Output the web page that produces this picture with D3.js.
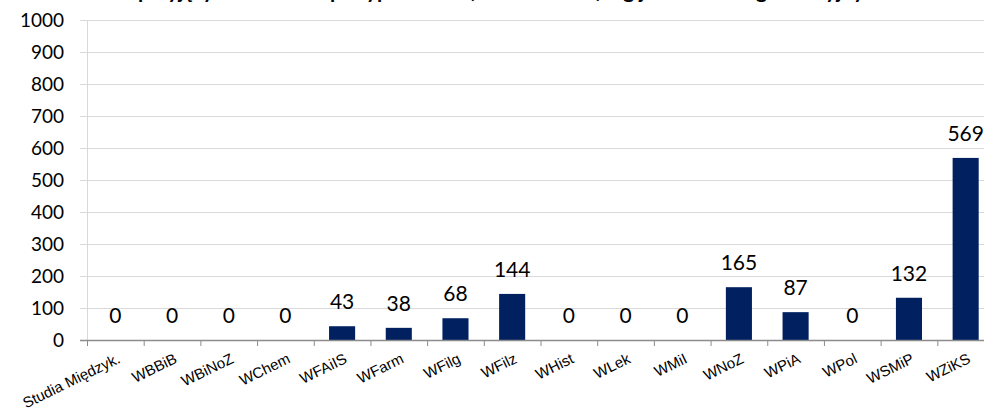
<!DOCTYPE html>
<html lang="pl">
<head>
  <meta charset="utf-8">
  <title>Wykres słupkowy</title>
  <script src="https://d3js.org/d3.v7.min.js"></script>
  <style>
    body { margin: 0; background: #fff; }
    .tytul { font: bold 21px Lato, "Open Sans", sans-serif; fill: #000; }
    .oy text { font: 19px Lato, sans-serif; fill: #000; }
    .ox text { font: 15px "Liberation Sans", Arial, sans-serif; fill: #000; }
    .etykieta { font: 21px Lato, sans-serif; fill: #000; text-anchor: middle; }
  </style>
</head>
<body>
  <div id="chart"></div>
  <script>
    "use strict"

    var wydzialy = ["Studia Międzyk.", "WBBiB", "WBiNoZ", "WChem", "WFAiIS", "WFarm", "WFilg", "WFilz",
                    "WHist", "WLek", "WMiI", "WNoZ", "WPiA", "WPol", "WSMiP", "WZiKS"];
    var liczby = [0, 0, 0, 0, 43, 38, 68, 144, 0, 0, 0, 165, 87, 0, 132, 569];
    var tickiY = [0, 100, 200, 300, 400, 500, 600, 700, 800, 900, 1000];
    var tytul = "Liczba osób przyjętych na studia podyplomowe (stan na dzień) wg jednostek organizacyjnych";

    var szer = 984, wys = 409;
    var margin = {top: 20, left: 87, bottom: 69};
    var dol = wys - margin.bottom;

    var svg = d3.select("#chart").append("svg")
      .attr("width", szer).attr("height", wys);

    var x = d3.scaleBand()
      .domain(wydzialy)
      .range([margin.left, 994])
      .paddingInner(0.54)
      .paddingOuter(0.27);

    var pasmo = d3.scaleBand().domain(wydzialy).range([margin.left, 994]);

    var y = d3.scaleLinear().domain([0, 1000]).range([dol, margin.top]);

    // siatka
    svg.append("g").selectAll("line")
      .data(tickiY.filter(d => d > 0))
      .enter().append("line")
        .attr("x1", margin.left - 7).attr("x2", szer)
        .attr("y1", d => y(d) + 0.5).attr("y2", d => y(d) + 0.5)
        .attr("stroke", "#d9d9d9");

    svg.append("line")
      .attr("x1", margin.left + 0.5).attr("x2", margin.left + 0.5)
      .attr("y1", y(1000)).attr("y2", dol)
      .attr("stroke", "#d9d9d9");

    var oy = svg.append("g").attr("class", "oy")
      .attr("transform", "translate(" + (margin.left - 7) + ",0)")
      .call(d3.axisLeft(y).tickValues(tickiY).tickFormat(d3.format("d")).tickSize(0).tickPadding(16));
    oy.select(".domain").remove();

    // słupki
    svg.selectAll("rect.slupek")
      .data(liczby)
      .enter().append("rect")
        .attr("class", "slupek")
        .attr("x", (d, i) => x(wydzialy[i]))
        .attr("width", x.bandwidth())
        .attr("y", d => y(d))
        .attr("height", d => dol - y(d))
        .attr("fill", "#002060");

    // oś X
    svg.append("line")
      .attr("x1", margin.left - 7).attr("x2", szer)
      .attr("y1", dol + 0.5).attr("y2", dol + 0.5)
      .attr("stroke", "#8c8c8c").attr("stroke-width", 1.5);

    svg.append("g").selectAll("line")
      .data(wydzialy)
      .enter().append("line")
        .attr("x1", d => pasmo(d) + 0.5).attr("x2", d => pasmo(d) + 0.5)
        .attr("y1", dol).attr("y2", dol + 6)
        .attr("stroke", "#8c8c8c");

    svg.append("g").attr("class", "ox").selectAll("text")
      .data(wydzialy)
      .enter().append("text")
        .attr("text-anchor", "end")
        .attr("transform", d => "translate(" + (x(d) + x.bandwidth() / 2 + 1) + "," + (dol + 12) + ") rotate(-26)")
        .attr("dy", "0.75em")
        .text(d => d);

    // etykiety wartości
    svg.selectAll("text.etykieta")
      .data(liczby)
      .enter().append("text")
        .attr("class", "etykieta")
        .attr("x", (d, i) => x(wydzialy[i]) + x.bandwidth() / 2)
        .attr("y", d => y(d) - 17)
        .text(d => d);

    svg.append("text")
      .attr("class", "tytul")
      .attr("x", 455).attr("y", -2)
      .attr("text-anchor", "middle")
      .text(tytul);
  </script>
</body>
</html>
